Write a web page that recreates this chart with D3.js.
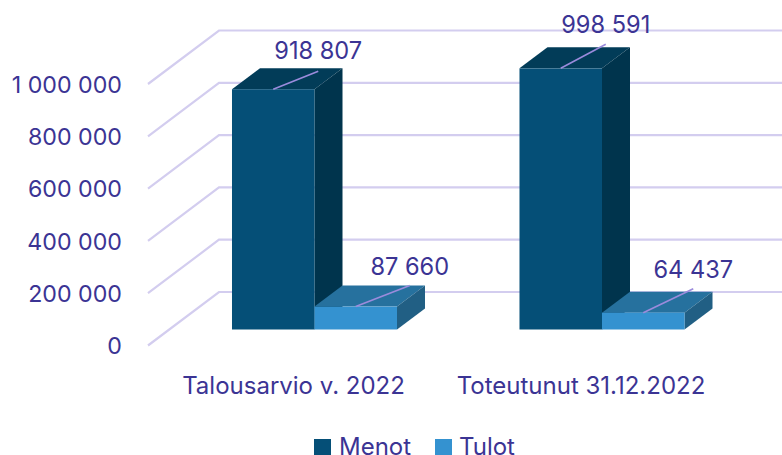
<!DOCTYPE html>
<html><head><meta charset="utf-8">
<script src="https://cdn.jsdelivr.net/npm/d3@7"></script>
<style>html,body{margin:0;padding:0;background:#fff}svg{display:block}text{font-family:Inter,"Noto Sans",sans-serif;fill:#3b3494}</style>
</head><body><div id="c"></div>
<script>
const categories = ["Talousarvio v. 2022", "Toteutunut 31.12.2022"];
const seriesNames = ["Menot", "Tulot"];
const menot = [918807, 998591];
const tulot = [87660, 64437];
const tickValues = [0, 200000, 400000, 600000, 800000, 1000000];

const W = 782, H = 455;
const frontColors = ["#054f77", "#3492d0"], topColors = ["#023c58", "#26719e"], sideColors = ["#00344d", "#215f84"];
const fmt = d3.formatLocale({decimal: ",", thousands: " ", grouping: [3], currency: ["", ""]}).format(",d");

const svg = d3.select("#c").append("svg").attr("width", W).attr("height", H);

const yAxisScale = d3.scaleLinear().domain([0, 1000000]).range([345.5, 84]);
const wallDx = 71, wallDy = -53.5;
const barBaseLift = -16, barDx = 28, barDy = -21;
const x0 = d3.scaleBand().domain(categories).range([170.75, 745.75]).paddingInner(0.426).paddingOuter(0.213);
const x1 = d3.scaleBand().domain(seriesNames).range([0, x0.bandwidth()]);
const xLeft = 148;

// grid
svg.append("g").selectAll("path").data(tickValues).join("path")
  .attr("fill", "none").attr("stroke", "#d3cdef").attr("stroke-width", 2.2)
  .attr("d", d => { const y = yAxisScale(d); return `M${xLeft},${y}L${xLeft + wallDx},${y + wallDy}L${W},${y + wallDy}`; });

// y axis labels
const yAxis = svg.append("g").attr("transform", "translate(122,0)")
  .call(d3.axisLeft(yAxisScale).tickValues(tickValues).tickSize(0).tickPadding(0).tickFormat(fmt));
yAxis.select(".domain").remove();
yAxis.selectAll("text").attr("font-size", 23.2).attr("fill", null).attr("dy", "0.36em");
yAxis.attr("font-family", null);

// bars
const rows = [];
categories.forEach((c, i) => {
  rows.push({c, s: 0, v: menot[i]});
  rows.push({c, s: 1, v: tulot[i]});
});
const bars = svg.append("g").selectAll("g").data(rows).join("g");
const geom = d => {
  const a = x0(d.c) + x1(seriesNames[d.s]), b = a + x1.bandwidth();
  const base = yAxisScale(0) + barBaseLift, top = yAxisScale(d.v) + barBaseLift;
  return {a, b, base, top};
};
bars.append("path").attr("fill", d => topColors[d.s]).attr("d", d => { const g = geom(d);
  return `M${g.a},${g.top}L${g.a + barDx},${g.top + barDy}L${g.b + barDx},${g.top + barDy}L${g.b},${g.top}Z`; });
bars.append("path").attr("fill", d => sideColors[d.s]).attr("d", d => { const g = geom(d);
  return `M${g.b},${g.top}L${g.b + barDx},${g.top + barDy}L${g.b + barDx},${g.base + barDy}L${g.b},${g.base}Z`; });
bars.append("rect").attr("fill", d => frontColors[d.s])
  .attr("x", d => geom(d).a).attr("y", d => geom(d).top)
  .attr("width", x1.bandwidth()).attr("height", d => geom(d).base - geom(d).top);

// data label leaders and labels
const leaderDx = [45, 54, 45, 50], leaderDy = [-18, -21, -24, -24], labelDy = [-21, -19, -20, -19];
rows.forEach((d, i) => {
  const g = geom(d), mx = (g.a + g.b) / 2, lx = mx + leaderDx[i], ly = g.top + leaderDy[i];
  svg.append("line").attr("x1", mx).attr("y1", g.top).attr("x2", lx).attr("y2", ly)
    .attr("stroke", "#9b8bdc").attr("stroke-width", 1.7);
  svg.append("text").attr("x", lx).attr("y", ly + labelDy[i]).attr("text-anchor", "middle")
    .attr("dy", "0.36em").attr("font-size", 23.6).text(fmt(d.v));
});

// category labels
svg.append("g").selectAll("text").data(categories).join("text")
  .attr("x", d => x0(d) + x0.bandwidth() / 2 - 21).attr("y", 385).attr("dy", "0.36em")
  .attr("text-anchor", "middle").attr("font-size", 24).text(d => d);

// legend
const legendX = [314, 435], legendTextX = [339, 459];
seriesNames.forEach((s, i) => {
  svg.append("rect").attr("x", legendX[i]).attr("y", 439).attr("width", 17).attr("height", 17).attr("fill", frontColors[i]);
  svg.append("text").attr("x", legendTextX[i]).attr("y", 446).attr("dy", "0.36em").attr("font-size", 24).text(s);
});
</script></body></html>
